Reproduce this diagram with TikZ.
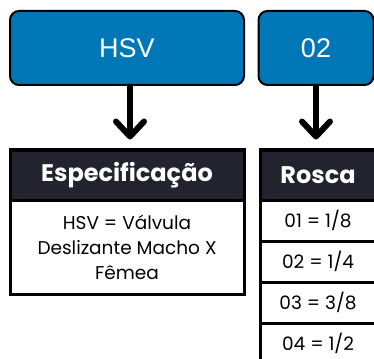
\documentclass[tikz,border=0pt]{standalone}
\usepackage{fontspec}
\setmainfont{Poppins}
\newfontfamily\codefont{Liberation Sans}
\usetikzlibrary{arrows.meta}
\definecolor{hsvblue}{RGB}{0,119,182}
\definecolor{headdark}{RGB}{34,35,46}
\tikzset{
  codebox/.style={draw=black, line width=2pt, fill=hsvblue, rounded corners=9pt,
    minimum height=74pt, inner sep=0pt, text=white,
    font=\codefont\fontsize{27}{32}\selectfont},
  headcell/.style={draw=black, line width=3pt, fill=headdark, text=white,
    minimum height=50pt, inner sep=0pt, font=\bfseries\fontsize{24}{28}\selectfont},
  bodycell/.style={draw=black, line width=3pt, fill=white, align=center,
    inner sep=0pt, font=\fontsize{18.5}{25}\selectfont},
  downarrow/.style={line width=6pt, -{Straight Barb[length=15pt, width=28pt, line cap=round, line join=round]}}
}
\begin{document}
\begin{tikzpicture}[x=1pt, y=-1pt]
  \useasboundingbox (0,0) rectangle (374,358);
  \clip (0,0) rectangle (374,358);
  \fill[white] (0,0) rectangle (374,358);
  \node[codebox, minimum width=234pt] (hsv) at (127,48) {HSV};
  \node[codebox, minimum width=115pt] (code) at (316,48) {02};
  \node[headcell, minimum width=234pt] (spec) at (127,175) {Especificação};
  \node[bodycell, minimum width=234pt, minimum height=94pt] (specbody) at (127,247)
    {HSV = Válvula\\Deslizante Macho X\\Fêmea};
  \node[headcell, minimum width=116pt] (rosca) at (318,175) {Rosca};
  \node[bodycell, minimum width=116pt, minimum height=41pt] (r1) at (318,220.5) {01 = 1/8};
  \node[bodycell, minimum width=116pt, minimum height=41pt] (r2) at (318,261.5) {02 = 1/4};
  \node[bodycell, minimum width=116pt, minimum height=41pt] (r3) at (318,302.5) {03 = 3/8};
  \node[bodycell, minimum width=116pt, minimum height=41pt] (r4) at (318,343.5) {04 = 1/2};
  \begin{scope}[downarrow]
    \draw ([xshift=3pt]hsv.south) to ([xshift=3pt, yshift=9pt]spec.north);
    \draw (code.south) to ([yshift=9pt]code.south |- rosca.north);
  \end{scope}
\end{tikzpicture}
\end{document}
